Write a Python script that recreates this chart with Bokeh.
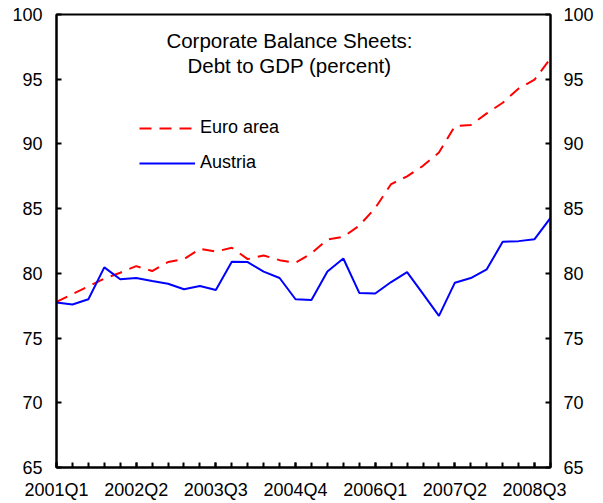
from bokeh.plotting import figure
from bokeh.models import Range1d, LinearAxis, FixedTicker, Legend, LegendItem, Label
from bokeh.embed import file_html
from bokeh.resources import INLINE

quarters = ["2001Q1", "2001Q2", "2001Q3", "2001Q4", "2002Q1", "2002Q2", "2002Q3", "2002Q4",
            "2003Q1", "2003Q2", "2003Q3", "2003Q4", "2004Q1", "2004Q2", "2004Q3", "2004Q4",
            "2005Q1", "2005Q2", "2005Q3", "2005Q4", "2006Q1", "2006Q2", "2006Q3", "2006Q4",
            "2007Q1", "2007Q2", "2007Q3", "2007Q4", "2008Q1", "2008Q2", "2008Q3", "2008Q4"]

euro_area = [77.8, 78.4, 79.0, 79.6, 80.05, 80.56, 80.18, 80.87, 81.1, 81.9, 81.68, 81.98,
             81.1, 81.38, 81.02, 80.82, 81.55, 82.62, 82.82, 83.69, 85.05, 86.9, 87.49, 88.31,
             89.33, 91.38, 91.46, 92.36, 93.18, 94.28, 94.97, 96.6]

austria = [77.75, 77.59, 78.0, 80.46, 79.54, 79.64, 79.41, 79.2, 78.77, 79.03, 78.72, 80.9,
           80.87, 80.13, 79.64, 78.0, 77.95, 80.15, 81.15, 78.49, 78.44, 79.33, 80.1, 78.41,
           76.72, 79.28, 79.64, 80.31, 82.44, 82.49, 82.64, 84.28]

tick_labels = ["2001Q1", "2002Q2", "2003Q3", "2004Q4", "2006Q1", "2007Q2", "2008Q3"]
y_ticks = [65, 70, 75, 80, 85, 90, 95, 100]
series_names = ["Euro area", "Austria"]
title_lines = ["Corporate Balance Sheets:", "Debt to GDP (percent)"]

FONT = "Liberation Sans"

x = list(range(len(quarters)))
tick_pos = [quarters.index(q) for q in tick_labels]

p = figure(width=603, height=503, output_backend="svg", toolbar_location=None,
           x_range=Range1d(0, len(quarters) - 1), y_range=Range1d(65, 100),
           min_border_left=56, min_border_right=53, min_border_top=14, min_border_bottom=36,
           background_fill_color="white", border_fill_color="white")
p.xgrid.visible = False
p.ygrid.visible = False
p.outline_line_color = "black"
p.outline_line_width = 2
p.outline_line_alpha = 1.0

# x axis
xa = p.xaxis[0]
xa.ticker = FixedTicker(ticks=tick_pos, minor_ticks=x)
xa.major_label_overrides = {i: q for i, q in zip(tick_pos, tick_labels)}
xa.major_tick_in = 5
xa.major_tick_out = 0
xa.minor_tick_in = 5
xa.minor_tick_out = 0
xa.major_tick_line_width = 2
xa.minor_tick_line_width = 2
xa.major_tick_line_color = "black"
xa.minor_tick_line_color = "black"
xa.axis_line_width = 2
xa.axis_line_color = "black"
xa.major_label_text_font = FONT
xa.major_label_text_font_size = "18px"
xa.major_label_text_color = "black"
xa.major_label_standoff = 12

def style_y(ax, standoff):
    ax.ticker = FixedTicker(ticks=y_ticks, minor_ticks=[])
    ax.major_tick_in = 5
    ax.major_tick_out = 0
    ax.minor_tick_in = 0
    ax.minor_tick_out = 0
    ax.major_tick_line_width = 2
    ax.major_tick_line_color = "black"
    ax.axis_line_width = 2
    ax.axis_line_color = "black"
    ax.major_label_text_font = FONT
    ax.major_label_text_font_size = "18px"
    ax.major_label_text_color = "black"
    ax.major_label_standoff = standoff

style_y(p.yaxis[0], 14)
ry = LinearAxis()
style_y(ry, 13)
p.add_layout(ry, "right")

r_euro = p.line(x, euro_area, line_color="#FF0000", line_width=2, line_dash="12 8")
r_aut = p.line(x, austria, line_color="#0000FF", line_width=2)

legend = Legend(items=[LegendItem(label=series_names[0], renderers=[r_euro]),
                       LegendItem(label=series_names[1], renderers=[r_aut])],
                location=(83, 294), orientation="vertical",
                glyph_width=56, glyph_height=20, label_height=20, spacing=14,
                label_standoff=5, padding=0, margin=0,
                border_line_color=None, background_fill_alpha=0,
                label_text_font=FONT, label_text_font_size="18px", label_text_color="black")
p.add_layout(legend, "center")

p.add_layout(Label(x=14.62, y=97.99, text=title_lines[0], text_align="center", text_baseline="middle",
                   text_font=FONT, text_font_size="20.5px", text_color="black"))
p.add_layout(Label(x=14.62, y=96.06, text=title_lines[1], text_align="center", text_baseline="middle",
                   text_font=FONT, text_font_size="20.5px", text_color="black"))

open("out.html", "w").write(file_html(p, INLINE))
